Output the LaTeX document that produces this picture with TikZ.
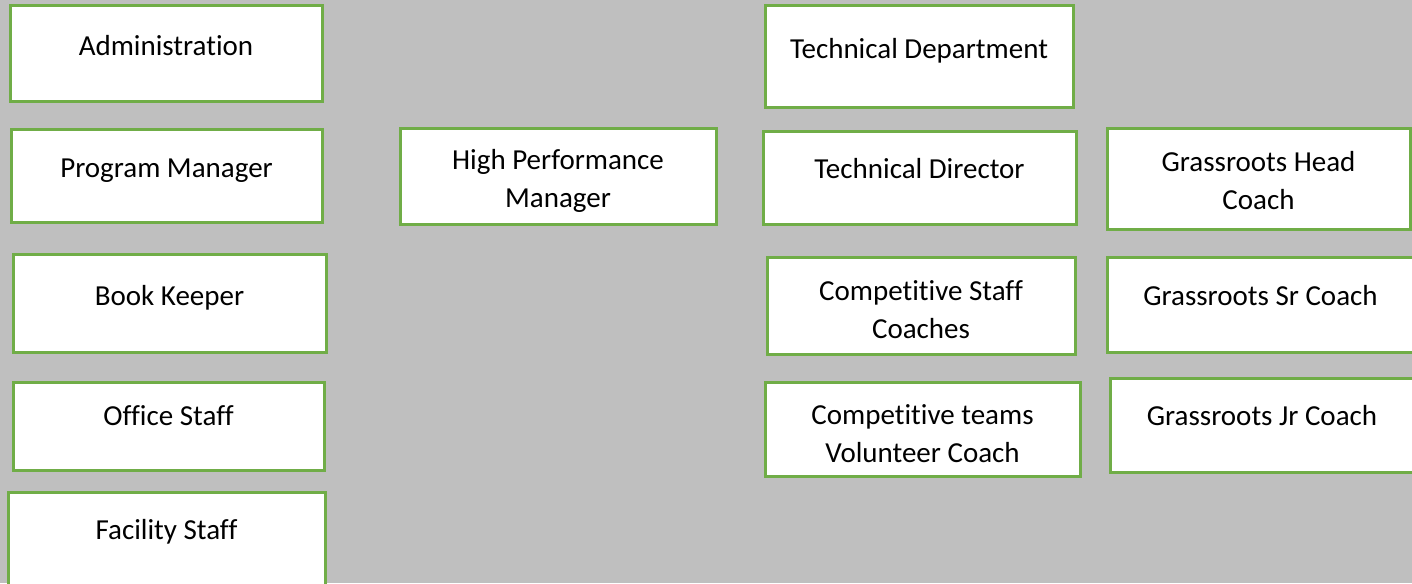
\documentclass[tikz,border=0pt]{standalone}
\usepackage{fontspec}
\setmainfont{Carlito}[Ligatures={NoCommon}]
\usetikzlibrary{calc}
\definecolor{bggray}{HTML}{BFBFBF}
\definecolor{boxgreen}{HTML}{70AD47}
\newcommand{\lbl}[1]{\begin{tabular}[t]{@{}c@{}}#1\end{tabular}}
\newcommand{\bx}[7]{%
  \node[boxshape, minimum width={#4-#2}, minimum height={#5-#3}] (#1) at ({(#2+#4)/2},{(#3+#5)/2}) {};
  \node[boxtext] (#1t) at ($(#1.north)+(0,#6+4)$) {\lbl{#7}};}
\begin{document}
\begin{tikzpicture}[x=1pt,y=-1pt,
  boxshape/.style={draw=boxgreen, line width=3pt, fill=white, inner sep=0pt, rectangle},
  boxtext/.style={anchor=base, inner sep=0pt, font=\fontsize{29}{38}\selectfont, text=black}]
\useasboundingbox (0,0) rectangle (1412,583);
\fill[bggray] (0,0) rectangle (1412,583);
% left column
\bx{adm}{10}{6}{322}{102}{47}{Administration}
\bx{prog}{11}{129}{322}{222}{46}{Program Manager}
\bx{book}{13}{254}{326}{352}{49}{Book Keeper}
\bx{office}{13}{382}{324}{470}{41}{Office Staff}
\bx{facility}{8}{492}{325}{600}{45}{Facility Staff}
% middle
\bx{hpm}{400}{128}{716}{224}{39}{High Performance\\Manager}
% technical column
\bx{techdept}{765}{6}{1073}{108}{50}{Technical Department}
\bx{techdir}{763}{131}{1076}{224}{45}{Technical Director}
\bx{compstaff}{767}{257}{1075}{354}{41}{Competitive Staff\\Coaches}
\bx{compteams}{765}{382}{1080}{476}{40}{Competitive teams\\Volunteer Coach}
% grassroots column
\bx{ghead}{1107}{128}{1410}{229}{41}{Grassroots Head\\Coach}
\bx{gsr}{1107}{257}{1414}{352}{46}{Grassroots Sr Coach}
\bx{gjr}{1110}{378}{1414}{472}{45}{Grassroots Jr Coach}
\end{tikzpicture}
\end{document}
